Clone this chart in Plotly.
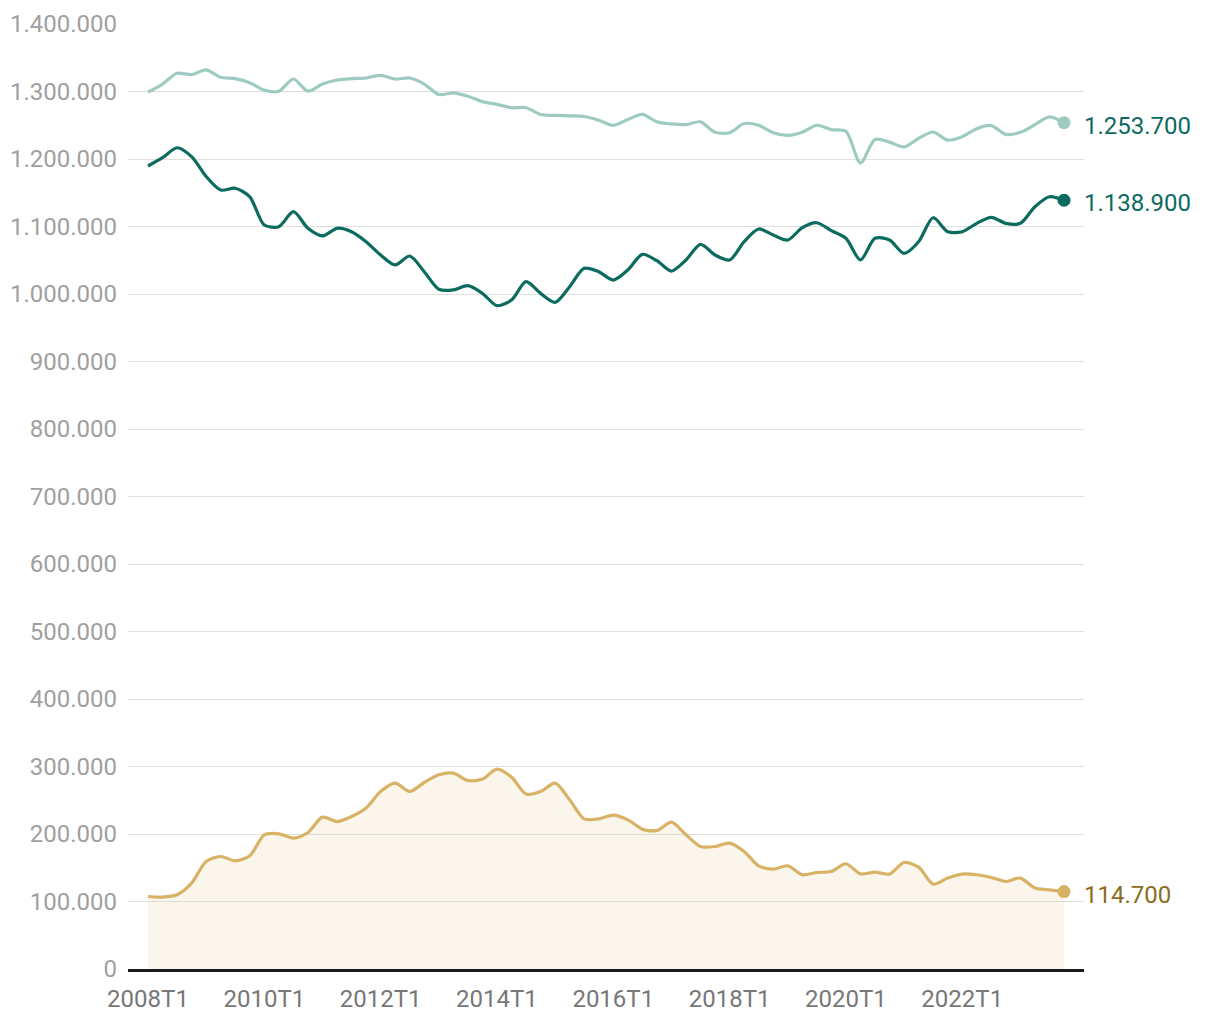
import plotly.graph_objects as go

# Quarter labels 2008T1 .. 2023T4
quarters = [f"{y}T{q}" for y in range(2008, 2024) for q in range(1, 5)]

total = [1299000, 1311000, 1327000, 1325000, 1332000, 1321000, 1319000, 1313000,
         1302000, 1300500, 1318500, 1300500, 1311000, 1317000, 1319000, 1320000,
         1324000, 1318500, 1320000, 1311000, 1295500, 1298000, 1293000, 1285000,
         1281000, 1276000, 1276000, 1266000, 1264500, 1264000, 1263000, 1257500,
         1250000, 1258500, 1266000, 1255000, 1252000, 1251000, 1255000, 1239500,
         1239000, 1252500, 1250000, 1239000, 1235000, 1239500, 1250000, 1243500,
         1241000, 1194000, 1229000, 1225000, 1218000, 1230500, 1240000, 1228000,
         1233000, 1245000, 1249500, 1236500, 1239500, 1251000, 1262500, 1253700]

nationals = [1189600, 1201900, 1216700, 1203400, 1174000, 1154000, 1156600, 1144000,
             1102200, 1099700, 1121900, 1097300, 1086000, 1097300, 1092300, 1077500,
             1057800, 1043000, 1056300, 1033000, 1007000, 1006000, 1012300, 1001000,
             982700, 991000, 1018200, 1001000, 987700, 1010800, 1038000, 1033000,
             1020700, 1035600, 1058800, 1049300, 1034000, 1050400, 1073600, 1057800,
             1050400, 1077500, 1096300, 1087400, 1080000, 1098300, 1105600, 1093800,
             1082500, 1050400, 1082500, 1080000, 1060200, 1077500, 1113000, 1092300,
             1092300, 1104700, 1113600, 1104700, 1104700, 1129300, 1144100, 1138900]

foreigners = [107400, 106500, 110000, 127200, 159300, 166700, 160300, 167700,
              198800, 200300, 193900, 202200, 225000, 218500, 225900, 238400,
              263000, 275400, 263000, 276300, 287700, 290200, 279300, 281300,
              296200, 284300, 259100, 263000, 275400, 250700, 222500, 222500,
              228000, 221000, 207200, 205200, 217600, 198800, 181500, 181500,
              186500, 174100, 152900, 148000, 152900, 139600, 143000, 144400,
              155900, 141000, 143500, 140600, 157800, 151000, 125800, 134700,
              140600, 139600, 135600, 129600, 134700, 119900, 117300, 114700]

tick_labels = ["2008T1", "2010T1", "2012T1", "2014T1", "2016T1", "2018T1", "2020T1", "2022T1"]
y_ticks = list(range(0, 1400001, 100000))

C_LIGHT = "#9dcbc1"
C_DARK = "#0b6b5e"
C_GOLD = "#d8b265"
C_GOLD_TXT = "#8c6b22"
FONT = "Roboto"
FS = 24

fig = go.Figure()

fig.add_trace(go.Scatter(
    x=quarters, y=foreigners, mode="lines",
    line=dict(color=C_GOLD, width=3.2, shape="spline", smoothing=0.8),
    fill="tozeroy", fillcolor="rgba(216,178,101,0.12)", hoverinfo="skip"))
fig.add_trace(go.Scatter(
    x=quarters, y=total, mode="lines",
    line=dict(color=C_LIGHT, width=3.2, shape="spline", smoothing=0.8), hoverinfo="skip"))
fig.add_trace(go.Scatter(
    x=quarters, y=nationals, mode="lines",
    line=dict(color=C_DARK, width=3.2, shape="spline", smoothing=0.8), hoverinfo="skip"))

# end markers
for series, col in [(total, C_LIGHT), (nationals, C_DARK), (foreigners, C_GOLD)]:
    fig.add_trace(go.Scatter(x=[quarters[-1]], y=[series[-1]], mode="markers",
                             marker=dict(color=col, size=13), hoverinfo="skip"))

def fmt(v):
    return f"{v:,}".replace(",", ".")

for series, col in [(total, C_DARK), (nationals, C_DARK), (foreigners, C_GOLD_TXT)]:
    fig.add_annotation(xref="paper", x=1, xanchor="left", xshift=-2,
                       yref="y", y=series[-1], yshift=-3, text=fmt(series[-1]),
                       showarrow=False, font=dict(family=FONT, size=FS, color=col))

fig.update_layout(
    width=1204, height=1004,
    margin=dict(l=120, r=128, t=16, b=43),
    paper_bgcolor="white", plot_bgcolor="white",
    showlegend=False,
    separators=",.",
    font=dict(family=FONT, size=FS, color="#9a9a9a"),
)
fig.update_xaxes(
    type="category", categoryorder="array", categoryarray=quarters,
    range=[-1.375, len(quarters) - 1 + 1.375],
    tickmode="array", tickvals=tick_labels, ticktext=tick_labels,
    showgrid=False, showline=True, linecolor="#1a1a1a", linewidth=2.5,
    ticks="", tickfont=dict(family=FONT, size=FS, color="#777777"),
    ticklabelstandoff=6, automargin=False,
)
fig.update_yaxes(
    range=[0, 1400000], tickmode="array", tickvals=y_ticks,
    ticktext=[fmt(v) for v in y_ticks],
    showgrid=True, gridcolor="#e0e0e0", gridwidth=1, zeroline=False,
    ticks="", tickfont=dict(family=FONT, size=FS, color="#a0a0a0"),
    ticklabelstandoff=10, automargin=False,
)

fig.write_html("out.html")
